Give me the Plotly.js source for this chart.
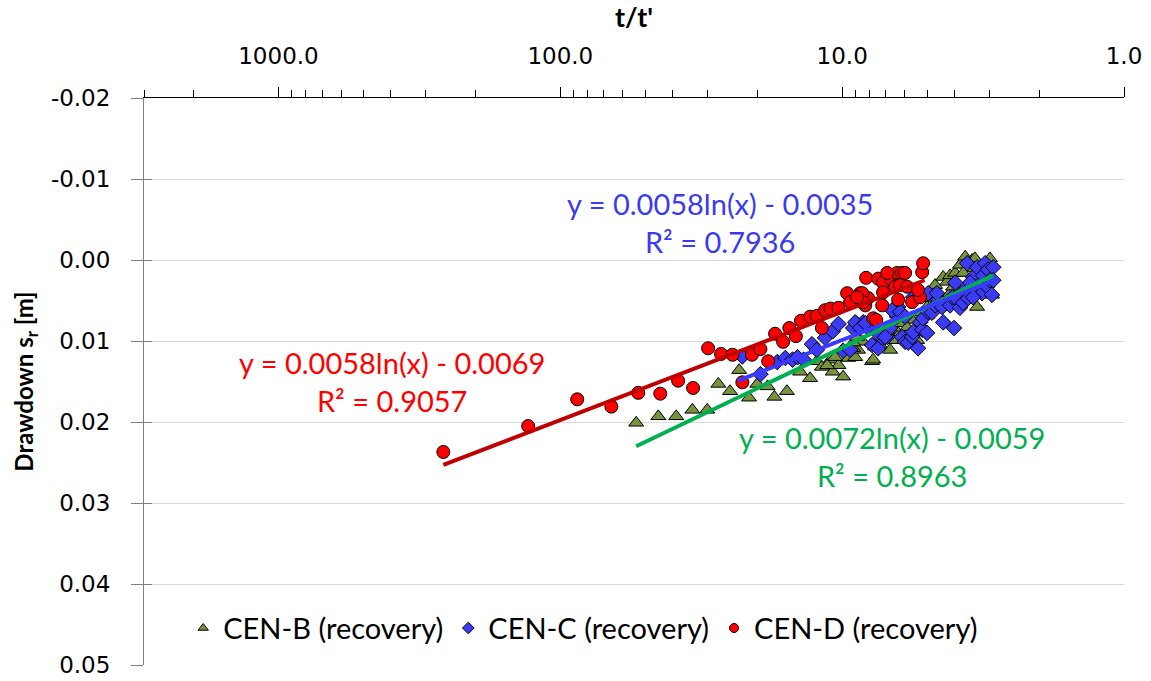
<!DOCTYPE html>
<html>
<head>
<meta charset="utf-8">
<script src="https://cdn.plot.ly/plotly-3.0.1.min.js"></script>
<style>html,body{margin:0;padding:0;background:#fff;}#chart{width:1151px;height:681px;}</style>
</head>
<body>
<div id="chart"></div>
<script>
// CEN-B (recovery)
const bX = [53.8,44.9,38.8,34.0,30.1,27.5,25.0,23.2,21.4,20.0,18.4,17.4,15.7,14.1,13.0,12.3,11.8,11.0,10.8,10.3,9.92,9.52,8.99,8.78,8.43,7.83,7.33,7.16,6.76,6.59,6.33,11.3,10.6,9.14,9.14,8.85,7.76,7.64,6.76,6.38,6.13,5.65,5.42,5.20,5.00,4.88,4.68,4.57,4.38,4.24,4.14,3.97,3.88,3.82,3.66,3.57,3.46,3.38,3.32,3.24,3.16,3.06,2.99,2.94,3.66,4.14,4.61,5.00,5.88,6.59,5.74,5.42,4.31,3.16,3.72,4.04];
const bY = [0.0201,0.0193,0.0193,0.0185,0.0185,0.0153,0.0162,0.0136,0.0170,0.0153,0.0156,0.0169,0.0162,0.0138,0.0146,0.0125,0.0132,0.0123,0.0138,0.0130,0.0144,0.0121,0.0120,0.0111,0.0101,0.0125,0.0105,0.0095,0.0111,0.0096,0.0090,0.0130,0.0120,0.0109,0.0102,0.0095,0.0123,0.0107,0.0086,0.0095,0.0078,0.0074,0.0099,0.0065,0.0058,0.0047,0.0031,0.0041,0.0021,0.0027,0.0019,0.0016,0.0035,0.0006,-0.0004,0.0010,0.0000,-0.0002,0.0058,0.0012,0.0035,0.0006,-0.0002,0.0043,0.0043,0.0041,0.0058,0.0068,0.0083,0.0099,0.0099,0.0089,0.0053,0.0022,0.0016,0.0033];
// CEN-C (recovery)
const cX = [22.6,19.5,17.0,15.9,15.0,14.4,13.7,12.8,12.3,11.5,10.8,10.3,9.92,9.37,9.14,8.78,8.43,8.09,7.83,7.45,7.21,6.92,6.76,6.59,6.38,6.33,8.99,8.63,8.28,7.51,7.04,6.65,6.23,6.13,5.98,5.83,5.65,5.60,5.38,5.29,5.20,5.16,4.95,4.80,4.68,4.57,4.42,4.38,4.14,4.07,4.01,3.91,3.82,3.72,3.66,3.57,3.60,3.43,3.32,3.29,3.19,3.16,3.11,3.06,3.04,2.99,2.94,2.91,2.91,3.43,3.52,3.97,4.95,5.60,5.98,5.00,4.61];
const cY = [0.0119,0.0141,0.0126,0.0121,0.0123,0.0120,0.0123,0.0104,0.0111,0.0096,0.0088,0.0079,0.0112,0.0111,0.0084,0.0080,0.0077,0.0084,0.0105,0.0109,0.0096,0.0095,0.0084,0.0062,0.0070,0.0058,0.0077,0.0084,0.0078,0.0090,0.0095,0.0062,0.0064,0.0095,0.0101,0.0102,0.0095,0.0089,0.0109,0.0077,0.0086,0.0072,0.0064,0.0065,0.0056,0.0049,0.0058,0.0077,0.0056,0.0046,0.0084,0.0049,0.0059,0.0053,0.0037,0.0047,0.0004,0.0021,0.0009,0.0031,0.0041,0.0019,0.0004,0.0033,0.0012,0.0025,0.0043,0.0009,0.0025,0.0046,0.0028,0.0028,0.0041,0.0046,0.0070,0.0090,0.0041];
// CEN-D (recovery)
const dX = [260,130,87.1,65.9,52.9,44.2,38.2,33.8,29.9,26.9,24.5,22.6,20.9,19.5,18.3,17.3,16.2,15.4,14.6,14.0,13.0,12.3,11.8,11.5,11.0,10.3,9.60,9.37,8.63,8.28,8.09,7.76,7.57,8.22,7.45,7.16,6.87,6.65,6.38,7.21,6.38,8.49,6.13,5.98,6.49,6.23,6.33,5.88,5.65,5.29,5.38,5.20,5.16,8.43,6.92,7.16,8.85];
const dY = [0.0237,0.0205,0.0172,0.0181,0.0164,0.0165,0.0149,0.0158,0.0109,0.0116,0.0117,0.0151,0.0117,0.0110,0.0125,0.0091,0.0101,0.0084,0.0094,0.0075,0.0070,0.0069,0.0084,0.0062,0.0060,0.0059,0.0041,0.0052,0.0041,0.0056,0.0047,0.0072,0.0074,0.0022,0.0023,0.0028,0.0017,0.0025,0.0016,0.0056,0.0031,0.0041,0.0016,0.0016,0.0033,0.0031,0.0049,0.0033,0.0052,0.0046,0.0037,0.0015,0.0004,0.0052,0.0016,0.0040,0.0046];
// trendline end points
const fitDX = [260, 5.1],  fitDY = [0.0253, 0.0025];
const fitCX = [23.4, 2.87], fitCY = [0.0149, 0.0025];
const fitBX = [53.8, 2.91], fitBY = [0.0230, 0.0019];
const seriesNames = ['CEN-B (recovery)', 'CEN-C (recovery)', 'CEN-D (recovery)'];
const xTickVals = [1000, 100, 10, 1];
const xTickText = ['1000.0', '100.0', '10.0', '1.0'];
const yTickVals = [-0.02, -0.01, 0, 0.01, 0.02, 0.03, 0.04, 0.05];
const yTickText = ['-0.02', '-0.01', '0.00', '0.01', '0.02', '0.03', '0.04', '0.05'];
const eqD = ['y = 0.0058ln(x) - 0.0069', 'R² = 0.9057'];
const eqC = ['y = 0.0058ln(x) - 0.0035', 'R² = 0.7936'];
const eqB = ['y = 0.0072ln(x) - 0.0059', 'R² = 0.8963'];

const colB = '#77933C', colC = '#3B3BF5', colD = '#FF0000';
const line = {color: '#000', width: 1};
const traces = [
  {x: bX, y: bY, type: 'scatter', mode: 'markers', showlegend: false,
   marker: {symbol: 'triangle-up', size: 13, color: colB, line: line}},
  {x: cX, y: cY, type: 'scatter', mode: 'markers', showlegend: false,
   marker: {symbol: 'diamond', size: 12, color: colC, line: line}},
  {x: dX, y: dY, type: 'scatter', mode: 'markers', showlegend: false,
   marker: {symbol: 'circle', size: 13, color: colD, line: line}},
  {x: fitDX, y: fitDY, type: 'scatter', mode: 'lines', showlegend: false, line: {color: '#C00000', width: 4}},
  {x: fitBX, y: fitBY, type: 'scatter', mode: 'lines', showlegend: false, line: {color: '#00B050', width: 4}},
  {x: fitCX, y: fitCY, type: 'scatter', mode: 'lines', showlegend: false, line: {color: '#3A3AFF', width: 4}},
  {x: [null], y: [null], type: 'scatter', mode: 'markers', name: seriesNames[0],
   marker: {symbol: 'triangle-up', size: 9, color: colB, line: line}},
  {x: [null], y: [null], type: 'scatter', mode: 'markers', name: seriesNames[1],
   marker: {symbol: 'diamond', size: 9, color: colC, line: line}},
  {x: [null], y: [null], type: 'scatter', mode: 'markers', name: seriesNames[2],
   marker: {symbol: 'circle', size: 9, color: colD, line: line}},
  {x: [null], y: [null], type: 'scatter', mode: 'markers', yaxis: 'y2', showlegend: false, hoverinfo: 'skip'}
];

const tickFont = {family: 'DejaVu Sans', size: 23, color: '#000'};
const annFont = (c) => ({family: 'Lato', size: 29, color: c});
const layout = {
  width: 1151, height: 681,
  margin: {l: 144, r: 27, t: 98, b: 16},
  paper_bgcolor: '#fff', plot_bgcolor: '#fff',
  showlegend: true,
  legend: {orientation: 'h', x: 0.04, y: 0.065, xanchor: 'left', yanchor: 'middle',
           font: {family: 'Lato', size: 29, color: '#000'}, bgcolor: 'rgba(0,0,0,0)', itemwidth: 30},
  xaxis: {
    type: 'log', side: 'top', range: [Math.log10(3000), 0],
    tickvals: xTickVals, ticktext: xTickText, tickfont: tickFont,
    ticks: 'outside', ticklen: 10, tickcolor: '#000', tickwidth: 1, ticklabelstandoff: 14,
    minor: {ticks: 'outside', ticklen: 7, tickcolor: '#000', showgrid: false, dtick: 'D1'},
    showline: true, linecolor: '#000', linewidth: 1, showgrid: false, zeroline: false,
    title: {text: "t/t'", font: {family: 'Lato', size: 27, color: '#000', weight: 'bold'}, standoff: 8}
  },
  yaxis: {
    range: [0.05, -0.02], tickvals: yTickVals, ticktext: yTickText, tickfont: tickFont,
    ticks: 'outside', ticklen: 12, tickcolor: '#808080', tickwidth: 1, ticklabelstandoff: 16,
    showline: true, linecolor: '#808080', linewidth: 1,
    showgrid: true, gridcolor: '#D9D9D9', gridwidth: 1, zeroline: false,
    title: {text: 'Drawdown s<sub>r</sub> [m]', font: {family: 'Lato', size: 24, color: '#000', weight: 'bold'}, standoff: 10}
  },
  yaxis2: {
    overlaying: 'y', side: 'left', range: [0.05, -0.02], tickvals: yTickVals,
    ticks: 'inside', ticklen: 8, tickcolor: '#808080', tickwidth: 1,
    showticklabels: false, showgrid: false, showline: false, zeroline: false
  },
  annotations: [
    {xref: 'paper', yref: 'paper', x: 0.253, y: 0.5, xanchor: 'center', yanchor: 'middle', text: eqD.join('<br>'), showarrow: false, font: annFont('#FF0000'), align: 'center'},
    {xref: 'paper', yref: 'paper', x: 0.588, y: 0.781, xanchor: 'center', yanchor: 'middle', text: eqC.join('<br>'), showarrow: false, font: annFont('#3A3AF0'), align: 'center'},
    {xref: 'paper', yref: 'paper', x: 0.763, y: 0.367, xanchor: 'center', yanchor: 'middle', text: eqB.join('<br>'), showarrow: false, font: annFont('#00B050'), align: 'center'}
  ]
};
Plotly.newPlot('chart', traces, layout, {staticPlot: true});
</script>
</body>
</html>
